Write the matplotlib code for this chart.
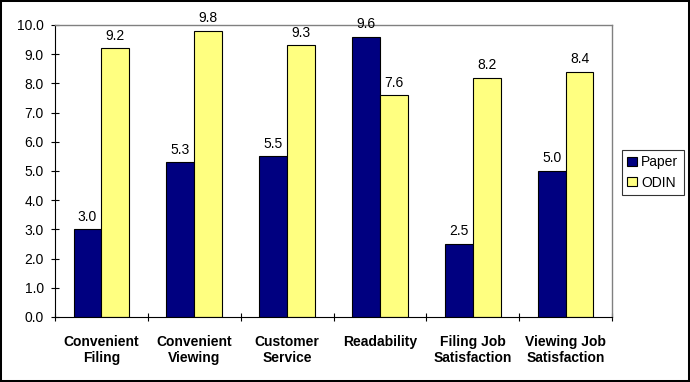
import matplotlib
matplotlib.use("Agg")
import matplotlib.pyplot as plt
import numpy as np
from matplotlib.patches import Rectangle

categories = ["Convenient\nFiling", "Convenient\nViewing", "Customer\nService",
              "Readability", "Filing Job\nSatisfaction", "Viewing Job\nSatisfaction"]
paper = [3.0, 5.3, 5.5, 9.6, 2.5, 5.0]
odin = [9.2, 9.8, 9.3, 7.6, 8.2, 8.4]
yticks = [0, 1, 2, 3, 4, 5, 6, 7, 8, 9, 10]

plt.rcParams['font.family'] = ['Liberation Sans', 'DejaVu Sans']

fig = plt.figure(figsize=(6.9, 3.82), dpi=100)
ax = fig.add_axes([55/690, 1-317/382, (612-55)/690, (317-25)/382])

x = np.arange(len(categories))
w = 0.3
b1 = ax.bar(x - w/2, paper, w, color='#000080', edgecolor='black', linewidth=0.8, label='Paper')
b2 = ax.bar(x + w/2, odin, w, color='#FFFF80', edgecolor='black', linewidth=0.8, label='ODIN')

for bars, vals in ((b1, paper), (b2, odin)):
    for r, v in zip(bars, vals):
        ax.annotate(f"{v:.1f}", (r.get_x() + r.get_width()/2, v), xytext=(0, 4),
                    textcoords='offset points', ha='center', va='bottom', fontsize=10)

ax.set_xlim(-0.5, len(categories) - 0.5)
ax.set_ylim(0, 10)
ax.set_yticks(yticks)
ax.set_yticklabels([f"{v:.1f}" for v in yticks], fontsize=10)
ax.tick_params(axis='y', direction='inout', length=6, width=0.8, pad=5)

ax.set_xticks(np.arange(len(categories) + 1) - 0.5)
ax.set_xticklabels([])
ax.tick_params(axis='x', which='major', direction='inout', length=6, width=0.8)
ax.set_xticks(x, minor=True)
ax.set_xticklabels(categories, minor=True, fontsize=10, fontweight='bold', linespacing=1.15)
ax.tick_params(axis='x', which='minor', length=0, pad=13)

for s in ('left', 'bottom'):
    ax.spines[s].set_color('black')
    ax.spines[s].set_linewidth(0.8)
for s in ('top', 'right'):
    ax.spines[s].set_color('#808080')
    ax.spines[s].set_linewidth(1.0)

leg = ax.legend(loc='upper left', bbox_to_anchor=(622/690, 1-150/382), bbox_transform=fig.transFigure,
                fontsize=10, frameon=True, fancybox=False, edgecolor='black',
                handlelength=0.7, handleheight=0.6, handletextpad=0.3, borderpad=0.38,
                labelspacing=0.45, borderaxespad=0)
leg.get_frame().set_linewidth(0.8)

fig.patches.append(Rectangle((0, 0), 1, 1, transform=fig.transFigure, fill=False,
                             edgecolor='black', linewidth=2.9))

fig.savefig("out.png", dpi=100)
